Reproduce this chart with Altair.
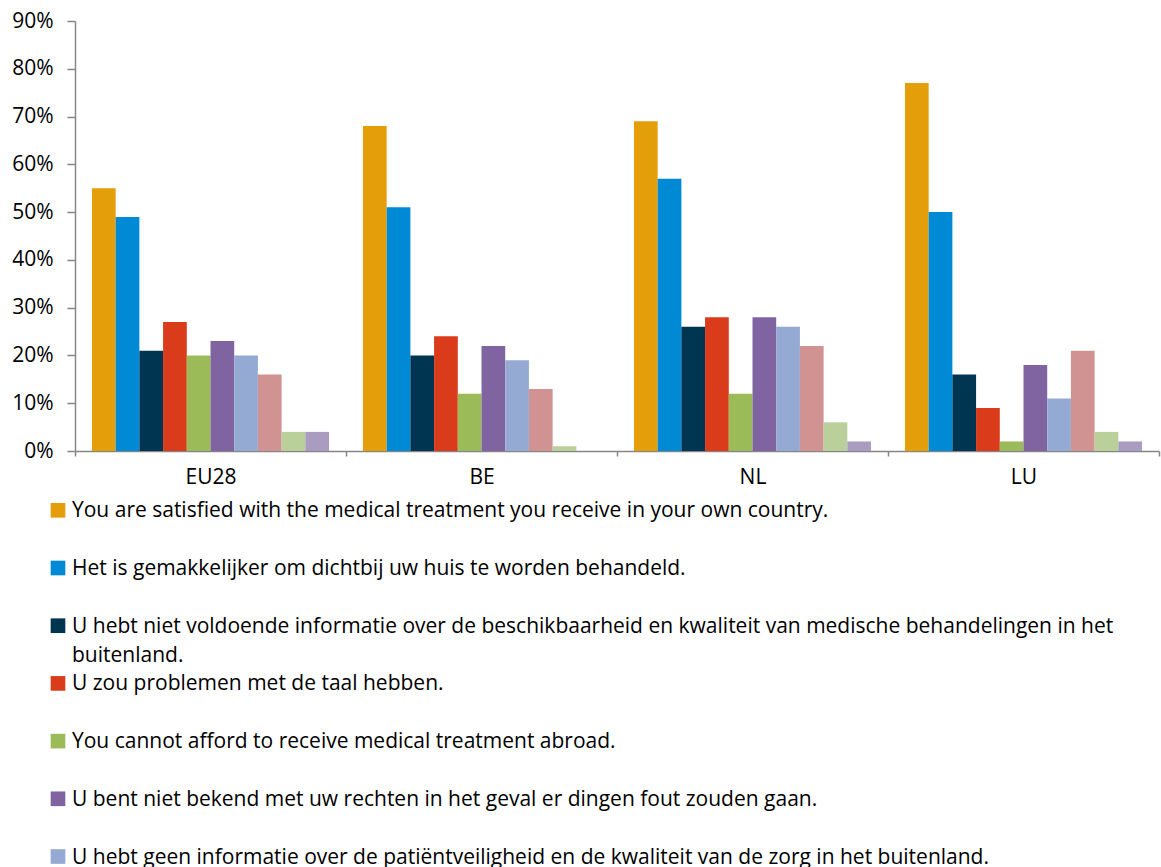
import altair as alt
import pandas as pd

# Countries on the x axis
countries = ["EU28", "BE", "NL", "LU"]

# Reasons (series keys, in drawing order inside each group)
series_ids = ["r1", "r2", "r3", "r4", "r5", "r6", "r7", "r8", "r9", "r10"]

# Share of respondents (%) per reason, in country order EU28, BE, NL, LU
r1 = [55, 68, 69, 77]
r2 = [49, 51, 57, 50]
r3 = [21, 20, 26, 16]
r4 = [27, 24, 28, 9]
r5 = [20, 12, 12, 2]
r6 = [23, 22, 28, 18]
r7 = [20, 19, 26, 11]
r8 = [16, 13, 22, 21]
r9 = [4, 1, 6, 4]
r10 = [4, 0, 2, 2]

colors = ["#E49E0A", "#008AD6", "#003551", "#DA3B1B", "#9BBB59",
          "#8064A2", "#95AAD2", "#D19292", "#BAD09A", "#AA9BC0"]

legend_labels = [
    "You are satisfied with the medical treatment you receive in your own country.",
    "Het is gemakkelijker om dichtbij uw huis te worden behandeld.",
    "U hebt niet voldoende informatie over de beschikbaarheid en kwaliteit van medische behandelingen in het\nbuitenland.",
    "U zou problemen met de taal hebben.",
    "You cannot afford to receive medical treatment abroad.",
    "U bent niet bekend met uw rechten in het geval er dingen fout zouden gaan.",
    "U hebt geen informatie over de patiëntveiligheid en de kwaliteit van de zorg in het buitenland.",
]

y_ticks = [0, 0.1, 0.2, 0.3, 0.4, 0.5, 0.6, 0.7, 0.8, 0.9]

FONT = "Open Sans"
FS = 21
AXIS_GREY = "#868686"

values = [r1, r2, r3, r4, r5, r6, r7, r8, r9, r10]
rows = []
for sid, vals in zip(series_ids, values):
    for c, v in zip(countries, vals):
        rows.append({"country": c, "series": sid, "share": v / 100})
df = pd.DataFrame(rows)

legend_df = pd.DataFrame({
    "row": list(range(len(legend_labels))),
    "label": legend_labels,
    "series": series_ids[:len(legend_labels)],
})

W, H = 1084, 846      # view size
PLOT_H = 430          # height of the bar panel inside the view

color = alt.Color("series:N", scale=alt.Scale(domain=series_ids, range=colors), legend=None)

bars = alt.Chart(df).mark_bar().encode(
    x=alt.X("country:N", sort=countries,
            scale=alt.Scale(domain=countries, paddingInner=0, paddingOuter=0),
            axis=alt.Axis(title=None, labelAngle=0, tickBand="extent", tickSize=5,
                          labelPadding=10, offset=PLOT_H - H,
                          domainColor=AXIS_GREY, tickColor=AXIS_GREY,
                          domainWidth=1.5, tickWidth=1.5,
                          labelFont=FONT, labelFontSize=FS, labelColor="black")),
    xOffset=alt.XOffset("series:N",
                        scale=alt.Scale(domain=series_ids, paddingInner=0, paddingOuter=0.715)),
    y=alt.Y("share:Q",
            scale=alt.Scale(domain=[0, 0.9], range=[PLOT_H, 0], nice=False),
            axis=alt.Axis(title=None, values=y_ticks, format=".0%", grid=False,
                          tickSize=8, labelPadding=14,
                          domainColor=AXIS_GREY, tickColor=AXIS_GREY,
                          domainWidth=1.5, tickWidth=1.5,
                          labelFont=FONT, labelFontSize=FS, labelColor="black")),
    color=color,
)

legend_y = alt.Y("row:Q",
                 scale=alt.Scale(domain=[0, 6], range=[489.3, 835.5], zero=False, nice=False),
                 axis=None)

legend_squares = alt.Chart(legend_df).mark_square(size=215, opacity=1).encode(
    x=alt.value(-17),
    y=legend_y,
    color=color,
)

legend_text = alt.Chart(legend_df).mark_text(
    align="left", baseline="alphabetic", dy=7, font=FONT, fontSize=FS,
    lineBreak="\n", lineHeight=29, color="black",
).encode(
    x=alt.value(-3),
    y=legend_y,
    text="label:N",
)

chart = alt.layer(bars, legend_squares, legend_text).resolve_scale(
    y="independent"
).properties(
    width=W, height=H,
    autosize=alt.AutoSizeParams(type="none"),
    padding={"left": 75, "top": 21, "right": 2, "bottom": 0},
    background="white",
).configure_view(stroke=None)

chart.save("out.html", embed_options={"renderer": "svg", "actions": False})
